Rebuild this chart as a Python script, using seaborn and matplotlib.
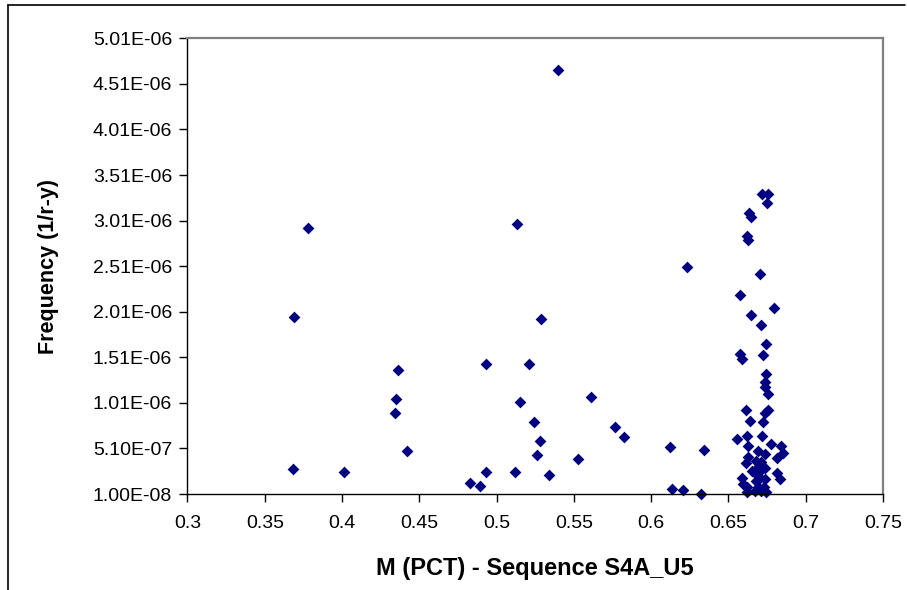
import matplotlib
matplotlib.use("Agg")
import matplotlib.pyplot as plt
import seaborn as sns
import pandas as pd
from matplotlib.lines import Line2D
from matplotlib.ticker import FuncFormatter

# M (PCT) values
m_pct = [0.378, 0.369, 0.368, 0.401, 0.436, 0.435, 0.434, 0.442,
         0.483, 0.489, 0.493, 0.493, 0.513, 0.521, 0.515, 0.529,
         0.524, 0.528, 0.526, 0.512, 0.534, 0.540, 0.561, 0.5765,
         0.5826, 0.553, 0.6125, 0.6344, 0.6133, 0.6204, 0.6325, 0.6234,
         0.6718, 0.6757, 0.6749, 0.6633, 0.6645, 0.662, 0.6625, 0.6706,
         0.6576, 0.6796, 0.6646, 0.6714, 0.674, 0.6727, 0.6576, 0.6585,
         0.674, 0.6736, 0.6736, 0.6753, 0.6615, 0.6753, 0.6736, 0.6637,
         0.6727, 0.6555, 0.662, 0.6719, 0.6628, 0.6775, 0.6839, 0.6856,
         0.6813, 0.6624, 0.6611, 0.6693, 0.6736, 0.6676, 0.6714, 0.665,
         0.6704, 0.6736, 0.6817, 0.6835, 0.6589, 0.6597, 0.662, 0.662,
         0.6676, 0.6702, 0.6736, 0.6693, 0.6732, 0.667, 0.6744, 0.6714,
         0.6689, 0.6676]

# Frequency (1/r-y)
freq = [2.93e-06, 1.95e-06, 2.88e-07, 2.55e-07, 1.37e-06, 1.05e-06, 9.0e-07, 4.78e-07,
        1.34e-07, 9.8e-08, 2.55e-07, 1.44e-06, 2.97e-06, 1.44e-06, 1.02e-06, 1.93e-06,
        7.97e-07, 5.96e-07, 4.39e-07, 2.55e-07, 2.19e-07, 4.66e-06, 1.07e-06, 7.46e-07,
        6.4e-07, 3.9e-07, 5.22e-07, 4.9e-07, 6.8e-08, 5.0e-08, 1.0e-08, 2.50e-06,
        3.30e-06, 3.30e-06, 3.20e-06, 3.09e-06, 3.05e-06, 2.84e-06, 2.80e-06, 2.42e-06,
        2.19e-06, 2.05e-06, 1.97e-06, 1.86e-06, 1.66e-06, 1.54e-06, 1.55e-06, 1.49e-06,
        1.33e-06, 1.24e-06, 1.18e-06, 1.11e-06, 9.33e-07, 9.33e-07, 8.96e-07, 8.15e-07,
        7.97e-07, 6.14e-07, 6.47e-07, 6.43e-07, 5.4e-07, 5.6e-07, 5.4e-07, 4.56e-07,
        4.1e-07, 4.2e-07, 3.54e-07, 4.78e-07, 4.5e-07, 3.76e-07, 3.57e-07, 2.66e-07,
        2.66e-07, 2.95e-07, 2.44e-07, 1.7e-07, 1.86e-07, 1.2e-07, 2.8e-08, 8.2e-08,
        1.56e-07, 1.9e-07, 1.75e-07, 8.3e-08, 9.0e-08, 4.6e-08, 2.8e-08, 4.6e-08,
        3.02e-07, 2.3e-07]

x_ticks = [0.3, 0.35, 0.4, 0.45, 0.5, 0.55, 0.6, 0.65, 0.7, 0.75]
y_ticks = [1.00e-08, 5.10e-07, 1.01e-06, 1.51e-06, 2.01e-06, 2.51e-06,
           3.01e-06, 3.51e-06, 4.01e-06, 4.51e-06, 5.01e-06]

df = pd.DataFrame({"m": m_pct, "freq": freq})

sns.set_style("white")
plt.rcParams["font.family"] = ["Liberation Sans", "DejaVu Sans"]
plt.rcParams["text.color"] = "black"
plt.rcParams["axes.labelcolor"] = "black"

fig = plt.figure(figsize=(9.07, 5.90), dpi=100)
ax = fig.add_axes([0.2067, 0.1627, 0.9735 - 0.2067, 0.9351 - 0.1627])

sns.scatterplot(data=df, x="m", y="freq", ax=ax, marker="D", s=36,
                color="#000080", linewidth=0, clip_on=False, legend=False)

ax.set_xlim(0.3, 0.75)
ax.set_ylim(1.00e-08, 5.01e-06)
ax.set_xticks(x_ticks)
ax.set_yticks(y_ticks)
ax.xaxis.set_major_formatter(FuncFormatter(lambda v, p: f"{v:g}"))
ax.yaxis.set_major_formatter(FuncFormatter(lambda v, p: f"{v:.2E}"))
ax.tick_params(axis="both", which="major", direction="out", length=6,
               width=1, color="black", labelcolor="black", labelsize=14,
               bottom=True, left=True)
ax.tick_params(axis="x", pad=9)
ax.tick_params(axis="y", pad=5)

for side in ["left", "bottom"]:
    ax.spines[side].set_color("black")
    ax.spines[side].set_linewidth(1)
for side in ["top", "right"]:
    ax.spines[side].set_color("#808080")
    ax.spines[side].set_linewidth(1.6)

ax.set_xlabel("M (PCT) - Sequence S4A_U5", fontsize=17, fontweight="bold", labelpad=18)
ax.set_ylabel("Frequency (1/r-y)", fontsize=15.5, fontweight="bold", labelpad=24)

# outer chart frame (left and top edges visible)
fig.add_artist(Line2D([8 / 907, 8 / 907], [0, 1 - 5 / 590], transform=fig.transFigure,
                      color="black", linewidth=1.2))
fig.add_artist(Line2D([8 / 907, 905 / 907], [1 - 5 / 590, 1 - 5 / 590], transform=fig.transFigure,
                      color="black", linewidth=1.2))

fig.savefig("out.png", dpi=100)
